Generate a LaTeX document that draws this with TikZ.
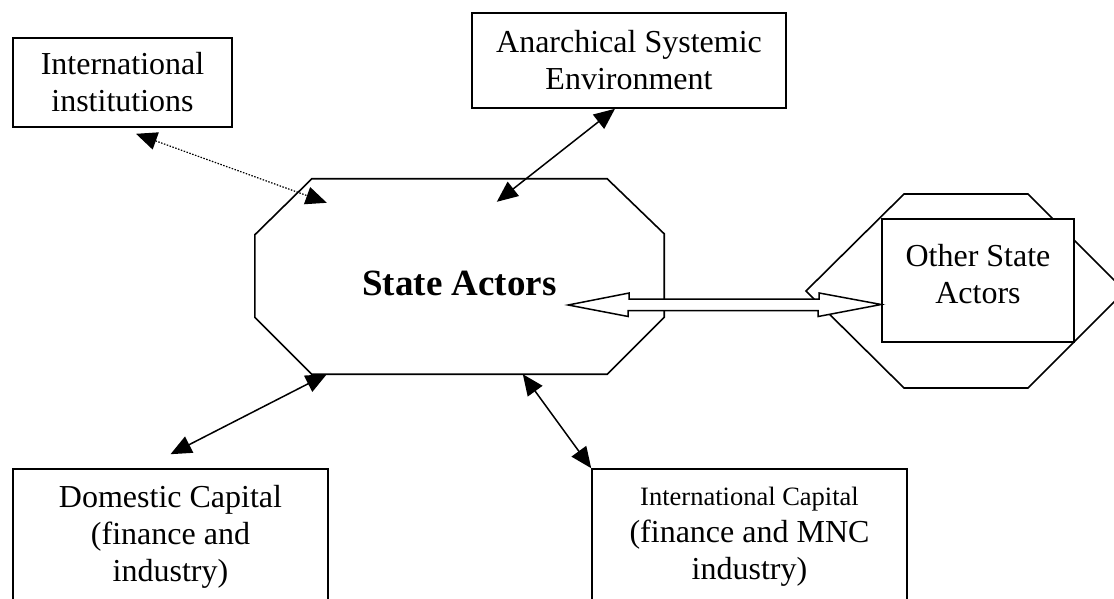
\documentclass[tikz,border=0pt]{standalone}
\usepackage{fontspec}
\setmainfont{Liberation Serif}
\usetikzlibrary{arrows.meta,positioning}

\begin{document}
\begin{tikzpicture}[x=1pt,y=-1pt,
    box/.style={draw,line width=1.6pt,align=center,inner sep=0pt,font=\fontsize{32}{37}\selectfont},
    link/.style={line width=1.5pt,{Triangle[length=21pt,width=18pt]}-{Triangle[length=21pt,width=18pt]}}]
  \useasboundingbox (0,0) rectangle (1114,599);
  % boxes
  \node[box,minimum width=219pt,minimum height=89pt] (inst) at (122.5,82.5) {International\\institutions};
  \node[box,minimum width=314pt,minimum height=95pt] (anarch) at (629,60.5) {Anarchical Systemic\\Environment};
  \node[box,minimum width=315pt,minimum height=136pt] (dom) at (170.5,537) {Domestic Capital\\(finance and\\industry)};
  \node[box,minimum width=315pt,minimum height=136pt] (intl) at (749.5,537) {{\fontsize{26.5}{30}\selectfont International Capital}\\(finance and MNC\\industry)};
  % state actors
  \node[minimum width=409pt,minimum height=195pt,text height=38pt,text depth=0pt,
    font=\fontsize{37}{42}\selectfont\bfseries] (state) at (459.5,276.5) {State Actors};
  \draw[line width=1.6pt] ([xshift=57pt]state.north west) -- ([xshift=-57pt]state.north east)
    -- ([yshift=-55pt]state.north east) -- ([yshift=57pt]state.south east)
    -- ([xshift=-57pt]state.south east) -- ([xshift=57pt]state.south west)
    -- ([yshift=57pt]state.south west) -- ([yshift=-56pt]state.north west) -- cycle;
  % other state actors
  \draw[line width=1.6pt] (806,291) -- (904,194) -- (1028,194) -- (1125,291) -- (1028,388) -- (904,388) -- cycle;
  \node[box,fill=white,minimum width=192pt,minimum height=123pt] (other) at (978,280.5) {};
  \node[box,draw=none,below=25pt of other.north] (othertxt) {Other State\\Actors};
  % connectors
  \draw[link,line width=1.2pt,dash pattern=on 1.5pt off 1.5pt] ([shift={(13.5,6)}]inst.south) -- ([shift={(72,24)}]state.north west);
  \draw[link] ([xshift=-14pt]anarch.south) -- ([shift={(242,23)}]state.north west);
  \draw[link] ([shift={(0,-14)}]dom.north) -- ([shift={(72,0)}]state.south west);
  \draw[link] (intl.north west) -- ([shift={(268,0)}]state.south west);
  % double arrow
  \coordinate (tipl) at ([shift={(-96,28.5)}]state.east);
  \coordinate (tipr) at ([shift={(0,24)}]other.west);
  \draw[line width=1.5pt,fill=white] (tipl) -- ++(61,-12) -- ++(0,6) -- ++(190,0) -- ++(0,-6) -- (tipr)
    -- ++(-63,12) -- ++(0,-6) -- ++(-190,0) -- ++(0,6) -- cycle;
\end{tikzpicture}
\end{document}
